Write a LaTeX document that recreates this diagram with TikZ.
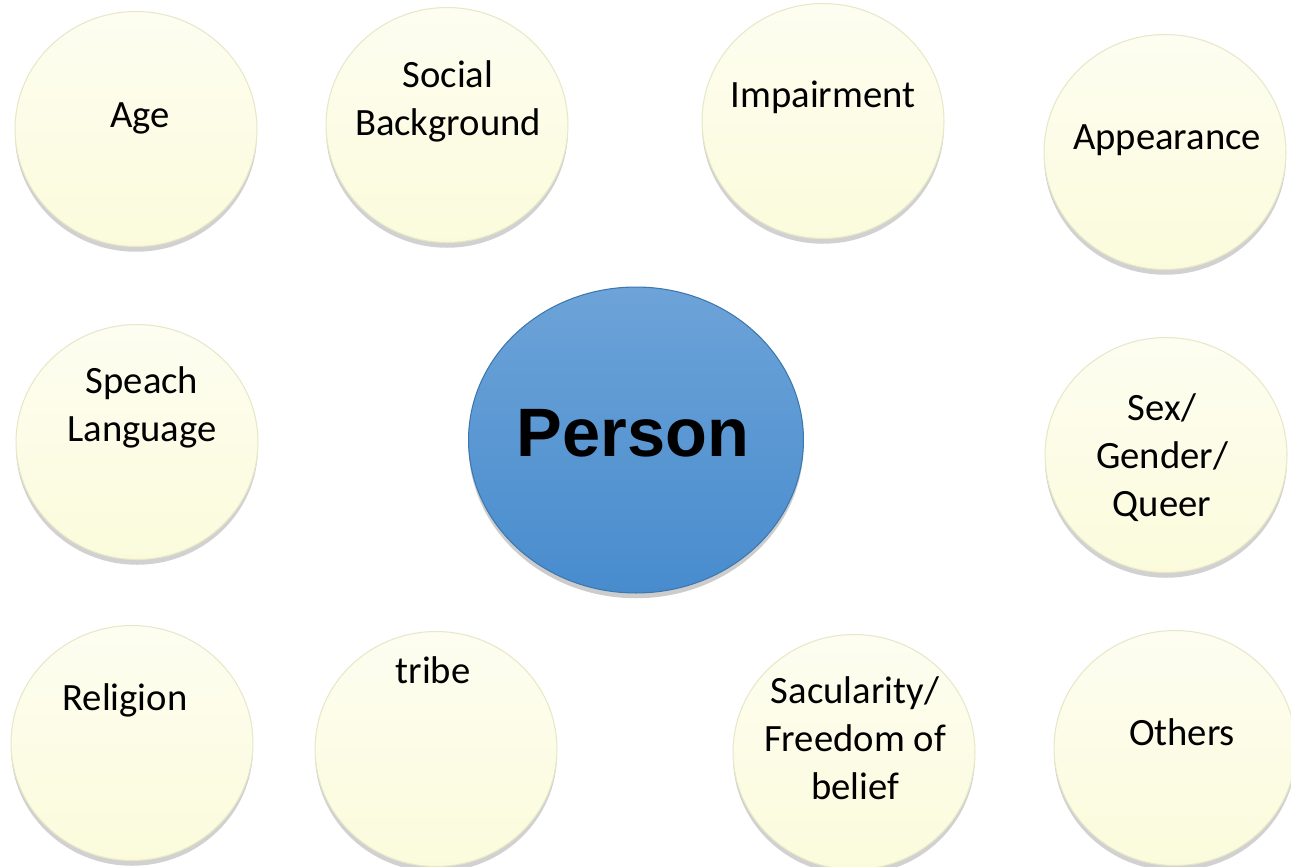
\documentclass[tikz,border=0pt]{standalone}
\usepackage{fontspec}
\setmainfont{Carlito}
\newfontfamily\personfont{Liberation Sans}
\usetikzlibrary{shapes.geometric, shadows, positioning, calc}

\definecolor{cream}{RGB}{251,251,220}
\definecolor{creamrim}{RGB}{232,232,200}
\definecolor{personblue}{RGB}{72,140,206}

\begin{document}
\begin{tikzpicture}[
    x=0.02cm, y=-0.02cm,
    bubble/.style={ellipse, minimum width=4.84cm, minimum height=4.7cm, draw=creamrim, line width=0.6pt,
        top color=cream!40!white, middle color=cream, bottom color=cream,
        drop shadow={shadow xshift=0pt, shadow yshift=-3pt, opacity=0.18, fill=black}},
    centre/.style={ellipse, minimum width=6.7cm, minimum height=6.12cm, draw=personblue!85!black, line width=0.6pt,
        top color=personblue!80!white, middle color=personblue, bottom color=personblue,
        drop shadow={shadow xshift=0pt, shadow yshift=-3pt, opacity=0.2, fill=black}},
    lbl/.style={align=center, font=\fontsize{22}{27.3}\selectfont, inner sep=0pt}
]
\useasboundingbox[fill=white] (0,0) rectangle (1291,866);

% Bubbles
\node[bubble] (age) at (136,129) {};
\node[bubble] (social) at (447,125) {};
\node[bubble] (impair) at (823,121) {};
\node[bubble] (appear) at (1165,152) {};
\node[bubble] (speach) at (137,442) {};
\node[bubble] (sex) at (1166,455) {};
\node[bubble] (religion) at (132,743) {};
\node[bubble] (tribe) at (436,749) {};
\node[bubble] (secular) at (854,752) {};
\node[bubble] (others) at (1175,748) {};

% Centre
\node[centre] (person) at (636,440) {};

% Labels
\node[lbl] (age_t) at (140,118) {Age};
\node[lbl] (social_t) at (448,101) {Social\\Background};
\node[lbl] (impair_t) at (823,97) {Impairment};
\node[lbl] (appear_t) at (1167,140) {Appearance};
\node[lbl] (speach_t) at (142,407) {Speach\\Language};
\node[lbl] (sex_t) at (1162,458) {Sex/\\Gender/\\Queer};
\node[lbl] (religion_t) at (125,700) {Religion};
\node[lbl] (tribe_t) at (433,670) {tribe};
\node[lbl] (secular_t) at (855,738) {Sacularity/\\Freedom of\\belief};
\node[lbl] (others_t) at (1182,732) {Others};
\node[font=\personfont\bfseries\fontsize{39}{41}\selectfont, inner sep=0pt] (person_t) at (633,433) {Person};

\end{tikzpicture}
\end{document}
